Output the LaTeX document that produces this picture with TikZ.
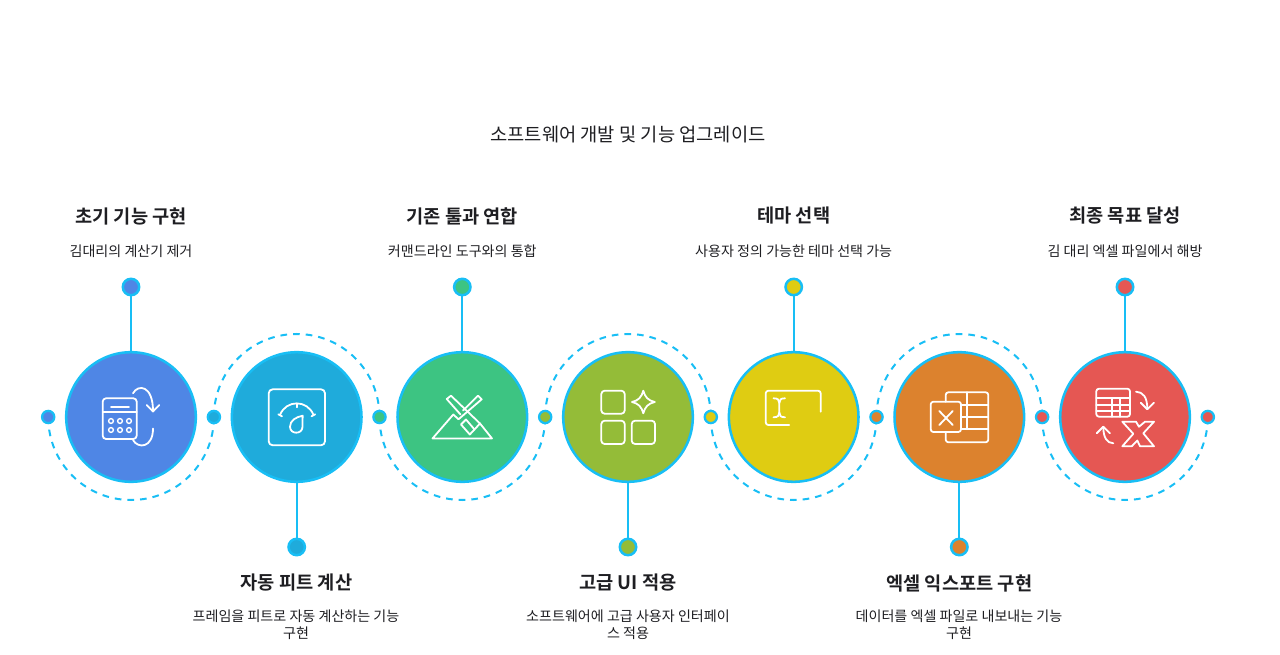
\documentclass[tikz,border=0pt]{standalone}
\usepackage{fontspec}
\setmainfont{Noto Sans CJK KR}[BoldFont={Noto Sans CJK KR Bold}]
\usetikzlibrary{backgrounds}
\definecolor{LineClr}{RGB}{24,190,245}
\definecolor{TextClr}{RGB}{30,30,34}
\definecolor{BlueClr}{RGB}{79,134,229}
\definecolor{TealClr}{RGB}{31,171,219}
\definecolor{GreenClr}{RGB}{61,196,130}
\definecolor{OliveClr}{RGB}{148,188,56}
\definecolor{YellowClr}{RGB}{223,204,18}
\definecolor{OrangeClr}{RGB}{220,130,46}
\definecolor{RedClr}{RGB}{229,87,83}
\tikzset{
  bigdisc/.style={circle,draw=LineClr,line width=1.9pt,minimum size=97.2pt,inner sep=0pt},
  enddot/.style={circle,draw=LineClr,line width=1.9pt,minimum size=12.3pt,inner sep=0pt},
  railDot/.style={circle,draw=LineClr,line width=1.7pt,minimum size=9.2pt,inner sep=0pt},
  stem/.style={draw=LineClr,line width=1.7pt},
  rail/.style={draw=LineClr,line width=1.5pt,dash pattern=on 5pt off 4.5pt},
  icon/.style={draw=white,line width=1.35pt,line join=round,line cap=round},
  headtext/.style={font=\fontsize{14}{16}\selectfont\bfseries,text=TextClr,inner sep=0pt},
  desctext/.style={font=\fontsize{10.55}{12.8}\selectfont,text=TextClr,align=center,inner sep=0pt},
  titletext/.style={font=\fontsize{14.05}{16}\selectfont,text=TextClr,inner sep=0pt}
}
\begin{document}
\begin{tikzpicture}[x=0.75pt,y=-0.75pt]
\useasboundingbox (0,0) rectangle (1280,655);

\node[titletext] (title) at (628,134) {소프트웨어 개발 및 기능 업그레이드};

% big discs
\node[bigdisc,fill=BlueClr] (discA) at (131,417) {};
\node[bigdisc,fill=TealClr] (discB) at (296.7,417) {};
\node[bigdisc,fill=GreenClr] (discC) at (462.3,417) {};
\node[bigdisc,fill=OliveClr] (discD) at (628,417) {};
\node[bigdisc,fill=YellowClr] (discE) at (793.7,417) {};
\node[bigdisc,fill=OrangeClr] (discF) at (959.3,417) {};
\node[bigdisc,fill=RedClr] (discG) at (1125,417) {};

% dots on the dashed line
\node[railDot,fill=BlueClr] (railA) at (48.2,417) {};
\node[railDot,fill=TealClr] (railB) at (213.9,417) {};
\node[railDot,fill=GreenClr] (railC) at (379.5,417) {};
\node[railDot,fill=OliveClr] (railD) at (545.2,417) {};
\node[railDot,fill=YellowClr] (railE) at (710.8,417) {};
\node[railDot,fill=OrangeClr] (railF) at (876.5,417) {};
\node[railDot,fill=RedClr] (railG) at (1042.1,417) {};
\node[railDot,fill=RedClr] (railH) at (1207.8,417) {};

\coordinate (waveA) at (131,500);
\coordinate (waveB) at (296.7,334);
\coordinate (waveC) at (462.3,500);
\coordinate (waveD) at (628,334);
\coordinate (waveE) at (793.7,500);
\coordinate (waveF) at (959.3,334);
\coordinate (waveG) at (1125,500);

\begin{pgfonlayer}{background}
\draw[rail] (railA.center) to[out=-90,in=180] (waveA) to[out=0,in=-90] (railB.center);
\draw[rail] (railB.center) to[out=90,in=180] (waveB) to[out=0,in=90] (railC.center);
\draw[rail] (railC.center) to[out=-90,in=180] (waveC) to[out=0,in=-90] (railD.center);
\draw[rail] (railD.center) to[out=90,in=180] (waveD) to[out=0,in=90] (railE.center);
\draw[rail] (railE.center) to[out=-90,in=180] (waveE) to[out=0,in=-90] (railF.center);
\draw[rail] (railF.center) to[out=90,in=180] (waveF) to[out=0,in=90] (railG.center);
\draw[rail] (railG.center) to[out=-90,in=180] (waveG) to[out=0,in=-90] (railH.center);
\end{pgfonlayer}

% stems
\node[enddot,fill=BlueClr] (endA) at (131,287) {};
\node[enddot,fill=TealClr] (endB) at (296.7,547) {};
\node[enddot,fill=GreenClr] (endC) at (462.3,287) {};
\node[enddot,fill=OliveClr] (endD) at (628,547) {};
\node[enddot,fill=YellowClr] (endE) at (793.7,287) {};
\node[enddot,fill=OrangeClr] (endF) at (959.3,547) {};
\node[enddot,fill=RedClr] (endG) at (1125,287) {};
\draw[stem] (endA) -- (discA);
\draw[stem] (endB) -- (discB);
\draw[stem] (endC) -- (discC);
\draw[stem] (endD) -- (discD);
\draw[stem] (endE) -- (discE);
\draw[stem] (endF) -- (discF);
\draw[stem] (endG) -- (discG);

% labels
\node[headtext] (headA) at (131,216) {초기 기능 구현};
\node[desctext] (descA) at (131,251) {김대리의 계산기 제거};
\node[headtext] (headB) at (296.5,583) {자동 피트 계산};
\node[desctext] (descB) at (296,624.5) {프레임을 피트로 자동 계산하는 기능\\구현};
\node[headtext] (headC) at (462.3,216) {기존 툴과 연합};
\node[desctext] (descC) at (462.3,251) {커맨드라인 도구와의 통합};
\node[headtext] (headD) at (628,583) {고급 UI 적용};
\node[desctext] (descD) at (628,624.5) {소프트웨어에 고급 사용자 인터페이\\스 적용};
\node[headtext] (headE) at (793.7,216) {테마 선택};
\node[desctext] (descE) at (793.7,251) {사용자 정의 가능한 테마 선택 가능};
\node[headtext] (headF) at (959.3,583) {엑셀 익스포트 구현};
\node[desctext] (descF) at (959,624.5) {데이터를 엑셀 파일로 내보내는 기능\\구현};
\node[headtext] (headG) at (1125,216) {최종 목표 달성};
\node[desctext] (descG) at (1125,251) {김 대리 엑셀 파일에서 해방};

% icon: calculator
\draw[icon,rounded corners=2.5pt] (102.7,398.3) rectangle (136.7,439);
\draw[icon] (102.7,412.3) -- (136.7,412.3);
\draw[icon] (111,406.7) -- (129,406.7);
\draw[icon,line width=1.05pt] (111,421) circle (2.4);
\draw[icon,line width=1.05pt] (120,421) circle (2.4);
\draw[icon,line width=1.05pt] (129,421) circle (2.4);
\draw[icon,line width=1.05pt] (111,430) circle (2.4);
\draw[icon,line width=1.05pt] (120,430) circle (2.4);
\draw[icon,line width=1.05pt] (129,430) circle (2.4);
\draw[icon] (133,393.3) .. controls (138,384) and (153,385) .. (153,411);
\draw[icon] (146.7,405) -- (153,411.5) -- (159.3,405);
\draw[icon] (153,428.5) .. controls (153,448) and (138,449) .. (133,440);

% icon: scale
\draw[icon,rounded corners=3pt] (268.7,389.3) rectangle (325,445.3);
\draw[icon] (280,415) .. controls (286,399.5) and (307.5,399.5) .. (313.5,415);
\draw[icon] (296.7,403.5) -- (296.7,407.3);
\draw[icon] (278.3,414.3) -- (282,416.3);
\draw[icon] (315.2,414.3) -- (311.5,416.3);
\draw[icon] (302.7,415.7) .. controls (296,417) and (290,420.5) .. (290,426.7)
  .. controls (290,434.7) and (302.5,434.7) .. (302.5,426.7) .. controls (302.5,423) and (302.5,419) .. (302.7,415.7) -- cycle;

% icon: tools
\draw[icon] (480,423.5) -- (492,438.5) -- (432.5,438.5) -- (453.3,414.5) -- (458.5,419.3) -- (481.7,399.3) -- (478,395.7) -- (463,410.5);
\draw[icon] (474.5,429.5) -- (480,423.5) -- (451,395.7) -- (446.7,399) -- (460.5,414.5);
\draw[icon] (461,424.5) -- (466,419.5) -- (474.5,429.5) -- (469.8,434.5) -- cycle;

% icon: tiles
\draw[icon,rounded corners=2.5pt] (601.3,390.7) rectangle (624.7,413.7);
\draw[icon,rounded corners=2.5pt] (601.3,420.7) rectangle (624.7,444);
\draw[icon,rounded corners=2.5pt] (631.7,420.7) rectangle (655,444);
\draw[icon] (643.3,390.7) .. controls (645,397) and (648,400.5) .. (654.8,402)
  .. controls (648,403.5) and (645,407) .. (643.3,413.3)
  .. controls (641.6,407) and (638.6,403.5) .. (632,402)
  .. controls (638.6,400.5) and (641.6,397) .. (643.3,390.7) -- cycle;

% icon: text box
\draw[icon,rounded corners=2pt] (820.7,411.7) -- (820.7,390.7) -- (765.7,390.7) -- (765.7,425) -- (789.3,425);
\draw[icon] (773.5,398.3) .. controls (778,398.3) and (779.3,400) .. (779.3,403) -- (779.3,412.5)
  .. controls (779.3,415.5) and (778,417.3) .. (773.5,417.3);
\draw[icon] (785,398.3) .. controls (780.5,398.3) and (779.3,400) .. (779.3,403);
\draw[icon] (785,417.3) .. controls (780.5,417.3) and (779.3,415.5) .. (779.3,412.5);

% icon: spreadsheet
\draw[icon,rounded corners=2pt] (945.7,401.7) -- (945.7,392.3) -- (988.3,392.3) -- (988.3,442.3) -- (945.7,442.3) -- (945.7,432);
\draw[icon] (966.7,392.3) -- (966.7,429.3);
\draw[icon] (961,405) -- (988.3,405);
\draw[icon] (961,417.3) -- (988.3,417.3);
\draw[icon] (961,429.3) -- (988.3,429.3);
\draw[icon,rounded corners=2pt] (930.7,401.7) rectangle (961,432);
\draw[icon] (939.3,411) -- (952.7,425);
\draw[icon] (952.7,411) -- (939.3,425);

% icon: convert
\draw[icon,rounded corners=2pt] (1096.3,388.7) rectangle (1130,416.7);
\draw[icon] (1096.3,398.3) -- (1130,398.3);
\draw[icon] (1096.3,405.3) -- (1130,405.3);
\draw[icon] (1096.3,411) -- (1130,411);
\draw[icon] (1111.7,398.3) -- (1111.7,416.7);
\draw[icon] (1120,398.3) -- (1120,416.7);
\draw[icon] (1136,391.7) .. controls (1143,392) and (1147.3,397) .. (1147.3,409);
\draw[icon] (1140.7,402.7) -- (1147.3,409.3) -- (1154,402.7);
\draw[icon] (1113.3,443.3) .. controls (1107,443) and (1103.3,438) .. (1103.3,426.7);
\draw[icon] (1096.7,433.3) -- (1103.3,426.7) -- (1110,433.3);
\draw[icon] (1122.3,421.7) -- (1136,421.7) -- (1139,426.7) -- (1145,421.7) -- (1154,421.7) -- (1143.3,433.3)
  -- (1154,446.3) -- (1140,446.3) -- (1137.3,440.5) -- (1131.7,446.3) -- (1122.3,446.3) -- (1133.3,433.8) -- cycle;
\end{tikzpicture}
\end{document}
